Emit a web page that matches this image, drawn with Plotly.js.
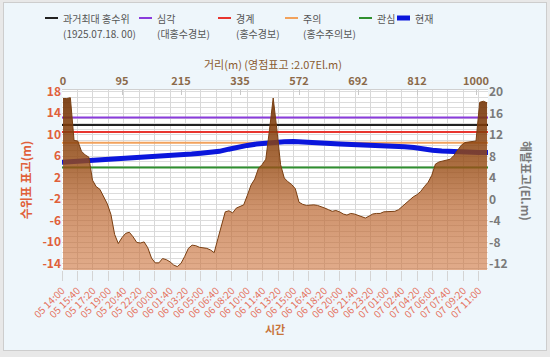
<!DOCTYPE html>
<html><head><meta charset="utf-8">
<script src="https://cdn.plot.ly/plotly-3.0.1.min.js"></script>
<style>
html,body{margin:0;padding:0;background:#e8e8e8;width:550px;height:357px;overflow:hidden;}
#frame{position:absolute;left:3px;top:2px;width:542px;height:347px;background:#eef6fb;border:1px solid #cdcdcd;}
#chart{position:absolute;left:0;top:0;width:550px;height:357px;}
</style></head><body>
<div id="frame"></div><div id="chart"></div>
<script>
// ---- time series (current water level, gauge datum m) ----
const times = [
 '2020-08-05 14:00','2020-08-05 15:00','2020-08-05 16:00','2020-08-05 17:00','2020-08-05 18:00','2020-08-05 19:00',
 '2020-08-05 20:00','2020-08-05 21:00','2020-08-05 22:00','2020-08-05 23:00',
 '2020-08-06 00:00','2020-08-06 01:00','2020-08-06 02:00','2020-08-06 03:00','2020-08-06 04:00','2020-08-06 05:00',
 '2020-08-06 06:00','2020-08-06 07:00','2020-08-06 08:00','2020-08-06 09:00','2020-08-06 10:00','2020-08-06 11:00',
 '2020-08-06 12:00','2020-08-06 13:00','2020-08-06 14:00','2020-08-06 15:00','2020-08-06 16:00','2020-08-06 17:00',
 '2020-08-06 18:00','2020-08-06 19:00','2020-08-06 20:00','2020-08-06 21:00','2020-08-06 22:00','2020-08-06 23:00',
 '2020-08-07 00:00','2020-08-07 01:00','2020-08-07 02:00','2020-08-07 03:00','2020-08-07 04:00','2020-08-07 05:00',
 '2020-08-07 06:00','2020-08-07 07:00','2020-08-07 08:00','2020-08-07 09:00','2020-08-07 10:00','2020-08-07 11:00',
 '2020-08-07 12:00'];
const waterLevel = [4.85,4.95,5.0,5.1,5.2,5.3,5.45,5.6,5.7,5.8,5.9,6.0,6.15,6.3,6.4,6.55,6.7,6.9,7.3,7.7,
 8.0,8.25,8.45,8.6,8.7,8.75,8.7,8.65,8.5,8.35,8.25,8.2,8.1,8.05,8.0,7.9,7.85,7.75,7.6,7.3,
 7.1,6.95,6.85,6.8,6.75,6.7,6.7];

// ---- alert levels (gauge datum m) ----
const levelNames  = ['과거최대 홍수위','심각','경계','주의','관심'];
const levelNotes  = ['(1925.07.18. 00)','(대홍수경보)','(홍수경보)','(홍수주의보)',''];
const levelValues = [11.8, 13.2, 10.5, 8.5, 3.9];
const levelColors = ['#222222','#8a3cdc','#e8352f','#f2a25c','#2f8f2f'];
const currentName = '현재';

// ---- cross-section profile (distance m -> El.m) ----
const distances = ['0','6','12','18','24','30','36','42','48','54','60','66','72','78','84','90','95',
 '102','110','117','125','132','140','147','155','162','170','177','185','192','200','207','215',
 '222','230','237','245','252','260','267','275','282','290','297','305','312','320','327','335',
 '350','365','380','394','409','424','439','454','468','483','498','513','528','542','557','572',
 '579','587','594','602','609','617','624','632','639','647','654','662','669','677','684','692',
 '699','707','714','722','729','737','744','752','759','767','774','782','789','797','804','812',
 '824','835','847','859','871','882','894','906','918','929','941','953','965','976','988','1000',
 '1004','1008','1012'];
const elevation = [18.8,18.8,18.95,11.0,10.9,9.0,8.3,7.9,3.6,2.4,1.9,0.6,-0.8,-2.8,-6.5,-8.2,-7.1,
 -6.3,-6.1,-6.95,-8.0,-8.1,-7.9,-9.0,-10.9,-11.8,-11.8,-11.0,-11.2,-11.6,-12.2,-12.5,-11.9,
 -10.6,-9.1,-8.5,-8.6,-8.9,-9.0,-9.1,-9.4,-9.9,-7.3,-4.8,-2.3,-2.1,-2.5,-1.6,-1.3,
 -1.0,0.8,2.7,3.8,5.8,6.5,7.5,13.0,18.9,13.0,6.5,4.0,3.3,2.8,2.0,-0.5,
 -0.9,-1.1,-1.0,-1.0,-1.1,-1.3,-1.6,-1.9,-2.2,-2.05,-2.3,-2.7,-2.9,-2.6,-2.7,-2.95,
 -3.2,-3.45,-3.1,-2.7,-2.6,-2.6,-2.3,-2.25,-2.3,-2.2,-1.9,-1.3,-0.6,0.0,0.5,0.9,
 1.5,2.4,3.2,4.5,6.6,7.0,7.2,7.35,7.5,8.2,9.2,10.1,10.6,10.7,10.8,10.9,
 18.1,18.3,18.0];
const distanceTicks = ['0','95','215','335','572','692','812','1000'];

// ---- axis tick labels ----
const leftTicks  = [-14,-10,-6,-2,2,6,10,14,18];
const rightTicks = [-12,-8,-4,0,4,8,12,16,20];
const DATUM = 2.07;

// ---- layout constants ----
const W = 550, H = 357;
const M = {l:62, r:62, t:90, b:87};
const PW = W - M.l - M.r, PH = H - M.t - M.b;
const Y_RANGE = [-15.2, 18.32];
const Y2_RANGE = [Y_RANGE[0] + DATUM, Y_RANGE[1] + DATUM];
const T_RANGE = [times[0], times[times.length-1]];
const FONT = 'Noto Sans CJK KR, Noto Sans, sans-serif';
const px2x = px => (px - M.l) / PW;
const py2y = py => 1 - (py - M.t) / PH;

const traces = [];
levelNames.forEach((n, i) => {
  traces.push({type:'scatter', mode:'lines', x:T_RANGE, y:[levelValues[i], levelValues[i]],
    xaxis:'x', yaxis:'y', line:{color:levelColors[i], width:2}, name:n, showlegend:false, hoverinfo:'skip'});
});
traces.push({type:'scatter', mode:'lines', x:times, y:waterLevel, xaxis:'x', yaxis:'y',
  line:{color:'#0a16dc', width:5}, name:currentName, showlegend:false});
// baseline for the profile fill (bottom of the axis)
traces.push({type:'scatter', mode:'lines', x:distances, y:distances.map(() => Y2_RANGE[0]),
  xaxis:'x2', yaxis:'y2', line:{width:0, color:'rgba(0,0,0,0)'}, showlegend:false, hoverinfo:'skip'});
traces.push({type:'scatter', mode:'lines', x:distances, y:elevation, xaxis:'x2', yaxis:'y2',
  fill:'tonexty', line:{color:'#7a3f12', width:1}, showlegend:false, name:'단면',
  fillgradient:{type:'vertical', start:Y2_RANGE[0], stop:Y2_RANGE[1],
    colorscale:[[0,'rgba(205,115,60,0.6)'],[0.35,'rgba(185,100,45,0.7)'],[0.6,'rgba(150,75,20,0.82)'],[1,'rgba(107,45,0,0.9)']]}});

// custom legend
const legendX = [45, 139, 218, 285, 359, 397];
const SYM_LEN = 13, TEXT_GAP = 4, LEG_Y = 18, LEG_Y2 = 33;
const shapes = [], annotations = [];
const legColors = levelColors.concat(['#0a16dc']);
const legWidths = [2,2,2,2,2,5];
const legLine1 = levelNames.concat([currentName]);
const legLine2 = levelNotes.concat(['']);
const legFont = {family:FONT, size:10, color:'#555'};
legLine1.forEach((t, i) => {
  shapes.push({type:'line', xref:'paper', yref:'paper', x0:px2x(legendX[i]), x1:px2x(legendX[i]+SYM_LEN),
    y0:py2y(LEG_Y), y1:py2y(LEG_Y), line:{color:legColors[i], width:legWidths[i]}});
  annotations.push({xref:'paper', yref:'paper', x:px2x(legendX[i]+SYM_LEN+TEXT_GAP), y:py2y(LEG_Y),
    xanchor:'left', yanchor:'middle', showarrow:false, text:t, borderpad:0, font:legFont});
  if (legLine2[i]) {
    annotations.push({xref:'paper', yref:'paper', x:px2x(legendX[i]+SYM_LEN+TEXT_GAP), y:py2y(LEG_Y2),
      xanchor:'left', yanchor:'middle', showarrow:false, text:legLine2[i], borderpad:0, font:legFont});
  }
});
annotations.push({xref:'paper', yref:'paper', x:px2x(527), y:py2y(181), textangle:90,
  xanchor:'center', yanchor:'middle', showarrow:false, text:'해발표고(El.m)',
  font:{family:FONT, size:12, color:'#7a7a7a', weight:'bold'}});
annotations.push({xref:'paper', yref:'paper', x:px2x(273), y:py2y(64),
  xanchor:'center', yanchor:'middle', showarrow:false, text:'거리(m) (영점표고 :2.07El.m)', borderpad:0,
  font:{family:FONT, size:11, color:'#8a5a30'}});

const layout = {
  width:W, height:H, margin:M, paper_bgcolor:'rgba(0,0,0,0)', plot_bgcolor:'#ffffff',
  showlegend:false, font:{family:FONT},
  xaxis:{type:'date', range:T_RANGE, tickmode:'linear', tick0:times[0], dtick:100*60*1000,
    tickformat:'%d %H:%M', tickangle:-45, ticks:'outside', ticklen:10, tickcolor:'#d4d4d4',
    tickfont:{family:FONT, size:10, color:'#e5735f'}, showgrid:true, gridcolor:'#d8d8d8',
    zeroline:false, showline:false,
    title:{text:'시간', font:{family:FONT, size:11, color:'#c8743a', weight:'bold'}, standoff:6}},
  yaxis:{range:Y_RANGE, tickmode:'array', tickvals:leftTicks, ticktext:leftTicks.map(String),
    tickfont:{family:FONT, size:12, color:'#e0603a', weight:'bold'}, showgrid:true, gridcolor:'#dcdcdc',
    minor:{dtick:1, tick0:-14, showgrid:true, gridcolor:'#dcdcdc'}, zeroline:false,
    title:{text:'수위표 표고(m)', font:{family:FONT, size:12, color:'#e0603a', weight:'bold'}, standoff:8}},
  xaxis2:{type:'category', overlaying:'x', side:'top', anchor:'y2', range:[-0.27, 115.25],
    tickmode:'array', tickvals:distanceTicks, ticktext:distanceTicks, ticks:'inside', ticklen:5, tickcolor:'#c8c8c8',
    tickfont:{family:FONT, size:11, color:'#8b6a4a', weight:'bold'}, showgrid:false, zeroline:false,
    showline:true, linecolor:'#d0d0d0'},
  yaxis2:{overlaying:'y', side:'right', anchor:'x2', range:Y2_RANGE, tickmode:'array',
    tickvals:rightTicks, ticktext:rightTicks.map(String), showgrid:false, zeroline:false,
    tickfont:{family:FONT, size:12, color:'#7a7a7a', weight:'bold'}},
  shapes:shapes, annotations:annotations
};
Plotly.newPlot('chart', traces, layout, {displayModeBar:false, staticPlot:true});
</script></body></html>
